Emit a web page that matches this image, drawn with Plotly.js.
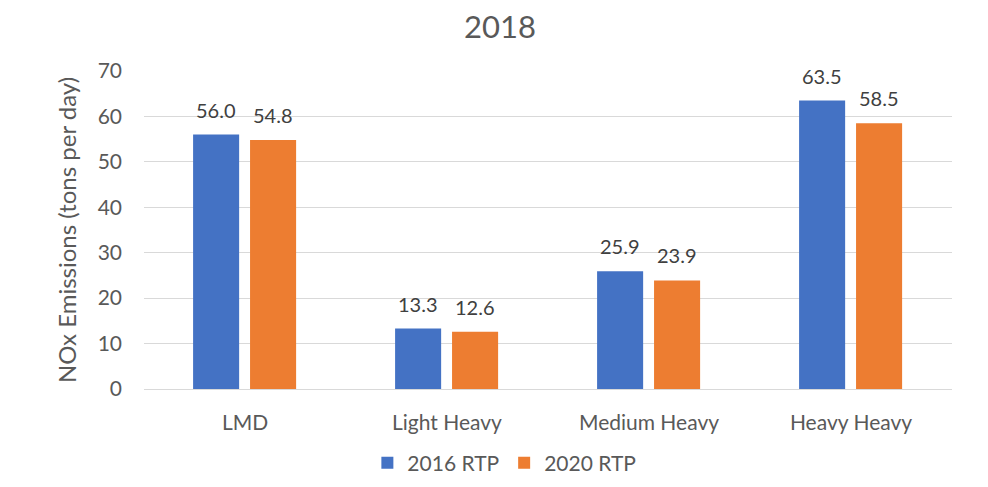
<!DOCTYPE html>
<html>
<head>
<meta charset="utf-8">
<script src="https://cdn.plot.ly/plotly-3.0.1.min.js"></script>
<style>html,body{margin:0;padding:0;background:#fff;}#chart{width:988px;height:487px;}</style>
</head>
<body>
<div id="chart"></div>
<script>
const categories = ["LMD", "Light Heavy", "Medium Heavy", "Heavy Heavy"];
const series2016 = [56.0, 13.3, 25.9, 63.5];
const series2020 = [54.8, 12.6, 23.9, 58.5];
const yTicks = [0, 10, 20, 30, 40, 50, 60, 70];

const FONT = "Lato, 'Open Sans', sans-serif";
const BAR_W = 0.228;
const OFF_A = -0.257, OFF_B = 0.025;

const traces = [
  {
    type: "bar", name: "2016 RTP", x: categories, y: series2016,
    marker: {color: "#4472C4"}, width: BAR_W, offset: OFF_A,
    hoverinfo: "skip"
  },
  {
    type: "bar", name: "2020 RTP", x: categories, y: series2020,
    marker: {color: "#ED7D31"}, width: BAR_W, offset: OFF_B,
    hoverinfo: "skip"
  }
];

const annotations = [];
[[series2016, OFF_A], [series2020, OFF_B]].forEach(([vals, off]) => {
  vals.forEach((v, i) => {
    annotations.push({
      x: i + off + BAR_W / 2, y: v, xref: "x", yref: "y",
      text: v.toFixed(1), showarrow: false,
      yanchor: "bottom", yshift: 11,
      font: {family: FONT, size: 20, color: "#404040"}
    });
  });
});

const layout = {
  width: 988, height: 487,
  margin: {l: 144, r: 36, t: 71, b: 98, autoexpand: false},
  paper_bgcolor: "#fff", plot_bgcolor: "#fff",
  font: {family: FONT, color: "#595959", size: 21},
  title: {text: "2018", font: {family: FONT, size: 31, color: "#595959"}, x: 0.506, xanchor: "center", y: 0.945, yanchor: "middle"},
  barmode: "group",
  annotations: annotations,
  xaxis: {tickfont: {size: 21, color: "#595959"}, showline: false, ticks: "", ticklabelstandoff: 19, automargin: false},
  yaxis: {
    range: [0, 70], tickvals: yTicks, ticktext: yTicks.map(String),
    showgrid: true, gridcolor: "#D9D9D9", gridwidth: 1, zeroline: true, zerolinecolor: "#D9D9D9", zerolinewidth: 1,
    tickfont: {size: 21, color: "#595959"}, ticks: "", ticklabelstandoff: 21,
    title: {text: "NOx Emissions (tons per day)", font: {size: 24, color: "#595959"}, standoff: 14},
    automargin: false
  },
  legend: {orientation: "h", x: 0.446, xanchor: "center", y: -0.233, yanchor: "middle", font: {size: 21, color: "#595959"}, itemwidth: 30, traceorder: "normal"},
  showlegend: true
};

Plotly.newPlot("chart", traces, layout, {displayModeBar: false, staticPlot: true});
</script>
</body>
</html>
